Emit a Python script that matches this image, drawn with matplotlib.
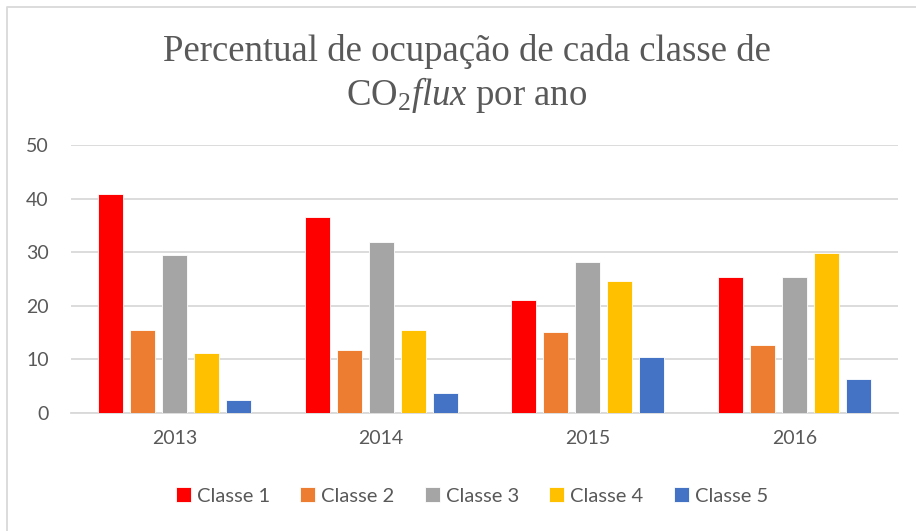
import numpy as np
import matplotlib.pyplot as plt
from matplotlib.lines import Line2D

# ── Data ──────────────────────────────────────────────────────────
anos    = ["2013", "2014", "2015", "2016"]
classes = ["Classe 1", "Classe 2", "Classe 3", "Classe 4", "Classe 5"]
classe1 = [40.9, 36.6, 21.0, 25.3]
classe2 = [15.5, 11.7, 15.1, 12.7]
classe3 = [29.4, 31.9, 28.1, 25.3]
classe4 = [11.2, 15.5, 24.7, 29.9]
classe5 = [2.5, 3.7, 10.5, 6.4]
series  = [classe1, classe2, classe3, classe4, classe5]
cores   = ["#FF0000", "#ED7D31", "#A5A5A5", "#FFC000", "#4472C4"]

plt.rcParams['mathtext.fontset'] = 'custom'
plt.rcParams['mathtext.rm'] = 'Liberation Serif'
plt.rcParams['mathtext.it'] = 'Liberation Serif:italic'

W, H = 916, 531
fig = plt.figure(figsize=(W / 100, H / 100), dpi=100)
ax = fig.add_axes([71 / W, 1 - 413 / H, (898 - 71) / W, (413 - 145) / H])

x = np.arange(len(anos))
bw, step = 25 / 207, 32 / 207
for i, (vals, c, lbl) in enumerate(zip(series, cores, classes)):
    ax.bar(x + (i - 2) * step, vals, width=bw, color=c, label=lbl,
           edgecolor='white', linewidth=0.6, zorder=3)

ax.set_xlim(-0.5, 3.5)
ax.set_ylim(0, 50)
ax.set_yticks(range(0, 51, 10))
ax.set_xticks(x)
ax.set_xticklabels(anos)
ax.grid(axis='y', color='#D9D9D9', lw=1.3, zorder=0)
for s in ['top', 'right', 'left']:
    ax.spines[s].set_visible(False)
ax.spines['bottom'].set_color('#D9D9D9')
ax.spines['bottom'].set_linewidth(1.3)
ax.tick_params(axis='y', length=0, pad=16, labelsize=14, labelcolor='#595959')
ax.tick_params(axis='x', length=0, pad=12, labelsize=14, labelcolor='#595959')
for lab in ax.get_xticklabels() + ax.get_yticklabels():
    lab.set_family('Lato')

fig.text(467 / W, 1 - 34 / H,
         "Percentual de ocupação de cada classe de\nCO$_2$$\\mathit{flux}$ por ano",
         ha='center', va='top', fontsize=26.5, family='Liberation Serif',
         color='#595959', linespacing=1.2)

leg = fig.legend(loc='center', bbox_to_anchor=(472 / W, 1 - 496 / H), ncol=5,
                 frameon=False, handlelength=0.75, handleheight=0.75,
                 handletextpad=0.3, columnspacing=1.5,
                 prop={'family': 'Lato', 'size': 14.5})
for t in leg.get_texts():
    t.set_color('#595959')

# outer chart-area border (only left and top edges visible)
fig.lines.append(Line2D([7 / W, 7 / W, 1], [0, 1 - 7 / H, 1 - 7 / H],
                        transform=fig.transFigure, color='#D9D9D9', lw=1.3))

fig.savefig("out.png", dpi=100, facecolor='white')
